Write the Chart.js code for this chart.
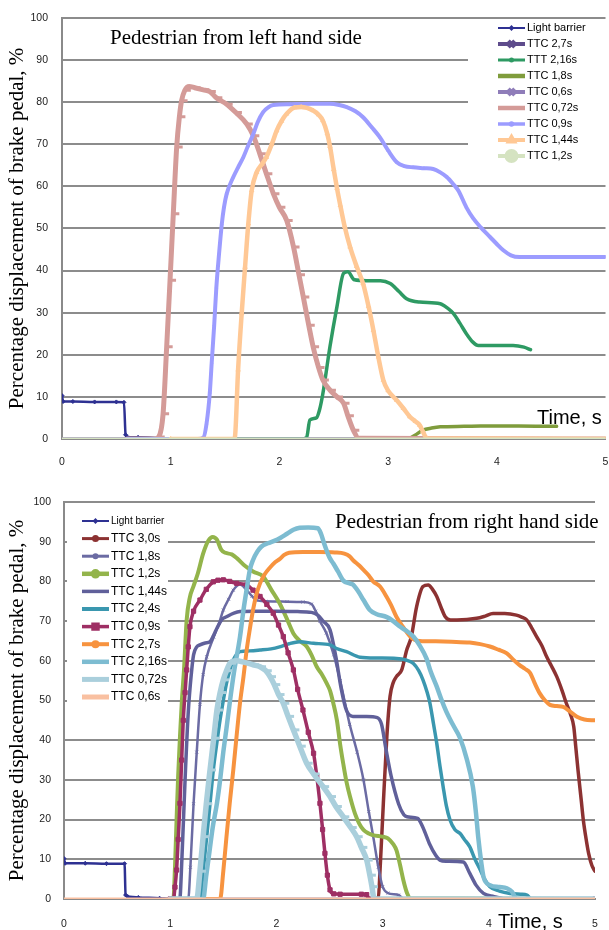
<!DOCTYPE html>
<html><head><meta charset="utf-8">
<script src="https://cdn.jsdelivr.net/npm/chart.js@4.4.1/dist/chart.umd.min.js"></script>
<style>
html,body{margin:0;padding:0;background:#fff;width:609px;height:930px;overflow:hidden}
canvas{position:absolute;left:0}
#c1{top:0}
#c2{top:470px}
</style></head><body>
<canvas id="c1" width="609" height="470"></canvas>
<canvas id="c2" width="609" height="460"></canvas>
<script>
// ---------- axis ticks ----------
const yTickValues = [0,10,20,30,40,50,60,70,80,90,100];
const xTickValues = [0,1,2,3,4,5];

// ---------- TOP PANEL: Pedestrian from left hand side ----------
const leftLabels = ['Light barrier','TTC 2,7s','TTT 2,16s','TTC 1,8s','TTC 0,6s','TTC 0,72s','TTC 0,9s','TTC 1,44s','TTC 1,2s'];
const L_lightBarrier = [[0,10.3],[0.01,8.9],[0.1,8.9],[0.3,8.8],[0.5,8.8],[0.57,8.7],[0.585,1],[0.6,0.5],[0.7,0.4],[0.9,0.2],[1.0,0],[5,0]];
const L_ttc27 = [[0,0],[5,0]];
const L_ttt216 = [[1.5,0],[2.2,0],[2.25,0.3],[2.28,4.5],[2.34,5],[2.37,7],[2.40,10.8],[2.465,21.9],[2.53,31.5],[2.59,39.3],[2.63,39.7],[2.69,37.8],[2.8,37.6],[2.93,37.6],[3.02,36.9],[3.1,35],[3.17,33.3],[3.29,32.5],[3.48,32.1],[3.55,31],[3.60,29.8],[3.66,27.5],[3.72,25],[3.78,23],[3.83,22.2],[4.0,22.2],[4.15,22.2],[4.25,21.8],[4.31,21.2]];
const L_ttc18 = [[3.2,0.2],[3.26,1.1],[3.32,2.1],[3.4,2.6],[3.48,2.9],[3.7,3.0],[3.85,3.1],[4.2,3.1],[4.55,3.0]];
const L_ttc06 = [[0,0],[5,0]];
const L_ttc072 = [[0.6,0],[0.85,0],[0.89,0.5],[0.93,6],[0.963,21.9],[0.994,37.7],[1.024,53.5],[1.055,69.3],[1.08,76.5],[1.10,80.3],[1.13,82.8],[1.17,83.7],[1.22,83.4],[1.30,82.9],[1.36,82.5],[1.42,81],[1.515,79.5],[1.60,77.5],[1.70,74.8],[1.76,72],[1.82,67.7],[1.88,63],[1.945,58.2],[2.0,55],[2.067,51.9],[2.13,45.6],[2.18,39],[2.22,33.7],[2.27,27],[2.31,21.9],[2.36,17],[2.40,14],[2.465,11.6],[2.53,10],[2.59,8.5],[2.63,5.5],[2.68,2.1],[2.73,0.2],[5,0]];
const L_ttc09 = [[0.6,0],[1.25,0],[1.30,0.3],[1.33,3.7],[1.36,11],[1.377,18],[1.40,27],[1.42,36],[1.445,44],[1.47,51],[1.49,55],[1.515,58.2],[1.576,62.2],[1.62,64.5],[1.668,66.9],[1.71,69.5],[1.76,72.4],[1.80,75.2],[1.85,77.6],[1.90,78.8],[1.944,79.3],[2.10,79.5],[2.3,79.6],[2.465,79.6],[2.55,79.3],[2.62,78.8],[2.70,77.8],[2.77,76.4],[2.85,74],[2.925,71.6],[3.0,68.5],[3.08,65.7],[3.15,64.8],[3.23,64.5],[3.33,64.3],[3.415,64.1],[3.48,63.3],[3.54,62.2],[3.60,60.5],[3.646,59],[3.72,55],[3.78,52.5],[3.85,50.3],[3.94,47.9],[4.0,46.3],[4.06,44.8],[4.13,43.6],[4.21,43.2],[4.5,43.2],[5,43.2]];
const L_ttc144 = [[1.0,0],[1.58,0],[1.59,0.3],[1.62,16.4],[1.653,29.8],[1.684,40.8],[1.714,51.1],[1.745,59],[1.79,63.3],[1.84,65.3],[1.88,66.9],[1.93,70],[1.975,73.2],[2.02,75.5],[2.067,77.2],[2.14,78.7],[2.2,78.8],[2.31,78],[2.36,77],[2.40,75.6],[2.44,72.5],[2.465,69.5],[2.50,64],[2.53,59.5],[2.56,55.5],[2.60,50.5],[2.65,45.6],[2.71,41],[2.77,36.9],[2.82,31.5],[2.865,25.8],[2.91,19.5],[2.956,14],[3.0,11.5],[3.08,9.2],[3.14,7.3],[3.20,5.3],[3.25,4.2],[3.29,3.3],[3.32,1.8],[3.355,0.2],[5,0]];
const L_ttc12 = [[0,0],[5,0]];
const leftSeries = [L_lightBarrier,L_ttc27,L_ttt216,L_ttc18,L_ttc06,L_ttc072,L_ttc09,L_ttc144,L_ttc12];

// ---------- BOTTOM PANEL: Pedestrian from right hand side ----------
const rightLabels = ['Light barrier','TTC 3,0s','TTC 1,8s','TTC 1,2s','TTC 1,44s','TTC 2,4s','TTC 0,9s','TTC 2,7s','TTC 2,16s','TTC 0,72s','TTC 0,6s'];
const R_lightBarrier = [[0,10.2],[0.01,9],[0.2,9],[0.4,8.9],[0.57,8.9],[0.58,1],[0.6,0.6],[0.7,0.4],[0.9,0.2],[1.0,0],[5,0]];
const R_ttc30 = [[2.9,0],[2.96,0.3],[2.976,7.3],[3.007,24.1],[3.04,40.9],[3.07,51],[3.10,54.5],[3.13,56],[3.18,57.7],[3.227,62.7],[3.27,66],[3.32,73.6],[3.38,78.7],[3.43,79.1],[3.47,78],[3.51,76.2],[3.55,73.5],[3.59,71.1],[3.64,70.3],[3.70,70.3],[3.886,70.7],[3.96,71.2],[4.04,71.9],[4.15,71.9],[4.26,71.5],[4.31,71],[4.357,70.3],[4.40,68.5],[4.45,66.1],[4.50,63.8],[4.545,61],[4.59,58.7],[4.64,56],[4.69,52.5],[4.73,49.3],[4.77,46.5],[4.80,43.4],[4.82,38],[4.84,32.5],[4.87,25],[4.89,19.9],[4.92,14.5],[4.94,11.5],[4.97,8.5],[5.0,7]];
const R_ttc18 = [[1.0,0],[1.17,0],[1.19,8],[1.22,24],[1.25,37],[1.28,49],[1.31,56.5],[1.344,61],[1.41,66],[1.46,69.5],[1.5,72.8],[1.55,75.5],[1.594,77.8],[1.657,79.2],[1.72,77.8],[1.77,76.3],[1.81,75.3],[1.9,75],[2.1,74.9],[2.25,74.8],[2.33,74.3],[2.37,72.5],[2.41,70],[2.47,67],[2.54,61.5],[2.6,55],[2.69,44],[2.76,37],[2.82,30],[2.87,22],[2.91,16],[2.96,8],[3.0,3.1],[3.05,1.5],[3.15,1],[3.2,0],[5,0]];
const R_ttc12 = [[1.0,0],[1.03,0],[1.045,8],[1.06,19.9],[1.075,31],[1.092,40.9],[1.11,50],[1.13,57.7],[1.155,70.3],[1.185,76],[1.218,78.7],[1.26,82],[1.31,87],[1.36,90.3],[1.40,91.2],[1.44,90.5],[1.48,88],[1.52,87.2],[1.58,86.8],[1.63,85.8],[1.7,84],[1.78,82.5],[1.877,81.2],[1.95,78],[2.03,74.5],[2.1,70.5],[2.16,66.9],[2.22,65],[2.285,63.6],[2.33,61.5],[2.38,58.5],[2.43,56.5],[2.474,54.3],[2.505,52.5],[2.536,49.3],[2.57,45],[2.60,39],[2.63,34],[2.66,29.5],[2.693,25.8],[2.74,21.5],[2.78,19],[2.82,17.4],[2.87,16.5],[2.91,16.1],[3.0,15.7],[3.05,15.3],[3.10,13.8],[3.13,12.3],[3.165,8.5],[3.195,4.8],[3.23,1.5],[3.26,0.2],[5,0]];
const R_ttc144 = [[1.0,0],[1.09,0],[1.11,10],[1.14,30],[1.17,47],[1.20,57],[1.22,61.5],[1.25,63.5],[1.28,64],[1.33,64.5],[1.375,64.8],[1.41,66.5],[1.44,68.2],[1.49,70.5],[1.53,71.1],[1.6,72],[1.657,72.4],[1.8,72.5],[2.0,72.5],[2.2,72.4],[2.33,72.2],[2.39,71.5],[2.44,70],[2.505,67.8],[2.56,61],[2.61,53],[2.66,47.5],[2.72,46],[2.85,46],[2.95,45.7],[2.99,44],[3.03,38],[3.08,31],[3.15,24],[3.2,21.2],[3.23,20.7],[3.33,20.3],[3.38,18],[3.44,14],[3.50,11],[3.54,9.8],[3.6,9.5],[3.76,9.3],[3.82,6.5],[3.88,3.5],[3.95,1.4],[4.05,0.6],[4.1,0.3],[4.15,0],[5,0]];
const R_ttc24 = [[1.0,0],[1.28,0],[1.31,7],[1.344,15.7],[1.375,24],[1.406,32.5],[1.44,39.5],[1.469,45],[1.5,50],[1.53,54.3],[1.56,57.5],[1.594,60.2],[1.657,62.3],[1.75,62.5],[1.846,62.7],[1.95,63],[2.03,63.5],[2.12,64.3],[2.22,64.8],[2.35,64.4],[2.505,64],[2.567,63.1],[2.66,62.3],[2.787,60.9],[2.95,60.7],[3.13,60.6],[3.22,60.2],[3.29,59.3],[3.34,57.5],[3.38,55.2],[3.42,52],[3.446,49.3],[3.48,44],[3.51,39.2],[3.54,33.5],[3.57,28.3],[3.60,23.5],[3.635,19.9],[3.68,17.5],[3.73,16.5],[3.77,15],[3.82,13.2],[3.87,10],[3.92,7.3],[3.96,5],[4.01,3.1],[4.1,2],[4.2,1.4],[4.3,1.2],[4.36,1],[4.4,0],[5,0]];
const R_ttc09 = [[1.0,0],[1.03,0],[1.045,3],[1.06,7.3],[1.075,15],[1.092,24.1],[1.108,35],[1.123,45],[1.14,52],[1.155,57.7],[1.17,63.5],[1.186,68.6],[1.22,72.5],[1.28,75.3],[1.34,78],[1.406,79.9],[1.45,80.3],[1.5,80.4],[1.56,80],[1.626,79.5],[1.72,79.1],[1.78,77.8],[1.846,76.2],[1.91,74.2],[1.97,72],[2.02,69],[2.065,66.1],[2.11,62],[2.16,57.7],[2.2,52.8],[2.25,47.6],[2.30,42],[2.35,36.7],[2.38,31],[2.41,24.1],[2.435,17.5],[2.457,11.5],[2.48,6],[2.505,2.3],[2.54,1.3],[2.6,1.2],[2.8,1.2],[2.85,1.1],[2.87,0],[5,0]];
const R_ttc27 = [[1.0,0],[1.47,0],[1.50,7],[1.53,15.7],[1.56,24],[1.594,32.5],[1.625,41],[1.657,49.3],[1.69,56],[1.72,62.7],[1.75,68],[1.78,72.8],[1.81,76.5],[1.846,79.5],[1.89,81.8],[1.94,83.5],[1.99,84.9],[2.03,85.6],[2.07,86.6],[2.12,87.2],[2.25,87.4],[2.4,87.4],[2.55,87.3],[2.64,87],[2.69,86.3],[2.72,85.4],[2.78,84],[2.82,82.9],[2.87,81.5],[2.91,80],[2.976,78.7],[3.04,76],[3.08,74],[3.13,71.1],[3.18,69],[3.26,66.1],[3.30,65.3],[3.35,65],[3.5,64.9],[3.65,64.8],[3.82,64.6],[3.92,64.2],[4.01,63.6],[4.09,62.8],[4.17,61.9],[4.23,60.3],[4.29,58.9],[4.34,58],[4.39,56.9],[4.43,54.5],[4.48,51.8],[4.53,50],[4.576,48.9],[4.64,48.6],[4.70,48.4],[4.76,47.3],[4.83,45.9],[4.9,45.2],[5.0,45]];
const R_ttc216 = [[1.0,0],[1.31,0],[1.34,6],[1.37,12],[1.40,18],[1.44,24.1],[1.47,30],[1.50,37],[1.53,43],[1.56,49.3],[1.60,57],[1.657,66],[1.69,72.8],[1.72,78],[1.75,82.9],[1.78,85.4],[1.82,87.5],[1.86,88.8],[1.92,89.6],[1.98,90.2],[2.04,91],[2.1,92],[2.16,93],[2.22,93.5],[2.3,93.6],[2.39,93.4],[2.42,92],[2.45,89.5],[2.5,86],[2.536,84.5],[2.58,82.5],[2.63,80.2],[2.69,79.5],[2.72,79.2],[2.77,77.5],[2.82,75.3],[2.88,72.8],[2.94,71.8],[3.04,71],[3.1,70],[3.17,68.5],[3.227,67.5],[3.29,66.1],[3.35,63.8],[3.415,60.5],[3.45,57.5],[3.51,53.5],[3.55,50.5],[3.6,47.2],[3.66,44],[3.73,40.5],[3.79,35.5],[3.85,28.3],[3.88,21.5],[3.90,15.7],[3.93,9],[3.95,5.6],[4.01,3.5],[4.1,3],[4.17,2.7],[4.22,1.8],[4.26,0],[5,0]];
const R_ttc072 = [[1.0,0],[1.25,0],[1.28,7],[1.31,15.7],[1.34,24],[1.375,32.5],[1.41,40.5],[1.44,47.6],[1.47,52],[1.5,55.2],[1.53,57.5],[1.563,59.4],[1.62,60],[1.7,59.6],[1.78,59],[1.846,58.5],[1.9,57.5],[1.94,56],[1.98,54],[2.02,51.5],[2.065,49.3],[2.11,46],[2.16,42.6],[2.22,38.5],[2.285,34.2],[2.35,31.5],[2.44,28.3],[2.505,25.8],[2.56,23.3],[2.63,20.7],[2.70,18],[2.756,15.7],[2.8,13],[2.85,9.8],[2.88,6],[2.9,3.1],[2.92,0],[5,0]];
const R_ttc06 = [[0,0],[5,0]];
const rightSeries = [R_lightBarrier,R_ttc30,R_ttc18,R_ttc12,R_ttc144,R_ttc24,R_ttc09,R_ttc27,R_ttc216,R_ttc072,R_ttc06];

// ---------- styles (kept apart from data) ----------
const leftStyles = [
  {c:'#2E3192', w:2.5, ps:'rectRot', pr:2, lw:2, lm:'rectRot', lr:1.5},
  {c:'#5E4C8C', w:3, lw:4, lm:'crossRot', lr:4.5},
  {c:'#2E9A63', w:3.5, lw:3, lm:'circle', lr:1},
  {c:'#7F9C3C', w:3.5, lw:4.5},
  {c:'#8F7DB9', w:3, lw:4, lm:'crossRot', lr:4.5},
  {c:'#D49B98', w:5, ps:'dash', pr:6, pbw:3, lw:4.5},
  {c:'#9C9CFF', w:4, ps:'triangle', pr:1.5, lw:3.5, lm:'circle', lr:1},
  {c:'#FFC895', w:4.5, ps:'triangle', pr:2.5, lw:4, lm:'triangle', lr:3},
  {c:'#D5E3C1', w:3, lw:4, lm:'circle', lr:5}
];
const rightStyles = [
  {c:'#2E3192', w:2.5, ps:'rectRot', pr:2, lw:2, lm:'rectRot', lr:1.5},
  {c:'#8C3232', w:3.5, lw:3, lm:'circle', lr:2},
  {c:'#6B6BA3', w:2.5, ps:'crossRot', pr:2, lw:3, lm:'circle', lr:1.5},
  {c:'#93B44B', w:4, lw:4.5, lm:'circle', lr:2.5},
  {c:'#60609A', w:3.5, lw:3.5},
  {c:'#3A97AF', w:3.5, lw:4},
  {c:'#9E2F64', w:3.5, ps:'rect', pr:3, lw:3.5, lm:'rect', lr:3.5},
  {c:'#F7933F', w:4, lw:4, lm:'circle', lr:2},
  {c:'#7DBCD1', w:4.5, lw:4.5},
  {c:'#AACFDC', w:5.5, ps:'dash', pr:6, pbw:3, lw:5},
  {c:'#F9C0A1', w:3, lw:5}
];

function buildDatasets(labels, series, styles) {
  return labels.map((label, i) => {
    const s = styles[i];
    return {
      label, data: series[i],
      borderColor: s.c, backgroundColor: s.c,
      borderWidth: s.w, fill: false,
      cubicInterpolationMode: 'monotone',
      borderJoinStyle: 'round', borderCapStyle: 'round',
      pointStyle: s.ps || 'circle',
      pointRadius: s.ps ? s.pr : 0,
      pointBorderWidth: s.pbw || 1,
      pointBackgroundColor: s.c, pointBorderColor: s.c,
      order: -i
    };
  });
}

const panelDecor = {
  id: 'panelDecor',
  afterDatasetsDraw(chart, args, o) {
    const ctx = chart.ctx;
    ctx.save();
    ctx.fillStyle = '#fff';
    ctx.fillRect(o.box[0], o.box[1], o.box[2], o.box[3]);
    chart.data.datasets.forEach((ds, i) => {
      const s = o.styles[i];
      const y = o.ly0 + i * o.ldy;
      ctx.strokeStyle = s.c; ctx.fillStyle = s.c;
      ctx.lineWidth = s.lw; ctx.lineCap = 'butt';
      ctx.beginPath(); ctx.moveTo(o.lx0, y); ctx.lineTo(o.lx1, y); ctx.stroke();
      if (s.lm) {
        Chart.helpers.drawPoint(ctx, {pointStyle: s.lm, radius: s.lr, borderWidth: s.lm === 'crossRot' ? 2.5 : 1, rotation: 0}, (o.lx0 + o.lx1) / 2, y);
      }
      ctx.fillStyle = '#000';
      ctx.font = (i === 0 ? o.lf0 : o.lf) + 'px "Liberation Sans", Arial, sans-serif';
      ctx.textAlign = 'left'; ctx.textBaseline = 'middle';
      ctx.fillText(ds.label, o.tx, y);
    });
    o.texts.forEach(t => {
      ctx.font = t.font; ctx.fillStyle = '#000';
      ctx.textAlign = 'left'; ctx.textBaseline = 'middle';
      ctx.fillText(t.text, t.x, t.y);
    });
    ctx.restore();
  }
};

function makeChart(canvas, labels, series, styles, geo, decor) {
  return new Chart(canvas, {
    type: 'line',
    data: { datasets: buildDatasets(labels, series, styles) },
    options: {
      responsive: false, animation: false, events: [],
      layout: { autoPadding: false, padding: { top: geo.top, right: geo.right, left: 0, bottom: 0 } },
      plugins: { legend: { display: false }, tooltip: { enabled: false }, title: { display: false }, panelDecor: decor },
      scales: {
        x: {
          type: 'linear', min: 0, max: 5,
          afterFit: s => { s.height = geo.xh; s.paddingLeft = 0; s.paddingRight = 0; },
          afterBuildTicks: s => { s.ticks = xTickValues.map(v => ({ value: v })); },
          grid: { display: false, drawTicks: false },
          border: { display: true, color: '#8A8A8A', width: 2 },
          ticks: { padding: geo.xpad, color: '#222', font: { family: '"Liberation Sans", Arial, sans-serif', size: 10.5 }, maxRotation: 0 }
        },
        y: {
          min: 0, max: 100,
          afterFit: s => { s.width = geo.yw; s.paddingTop = 0; s.paddingBottom = 0; },
          afterBuildTicks: s => { s.ticks = yTickValues.map(v => ({ value: v })); },
          grid: { color: '#8C8C8C', lineWidth: 2, drawTicks: false },
          border: { display: true, color: '#8A8A8A', width: 2 },
          ticks: { padding: geo.ypad, color: '#222', font: { family: '"Liberation Sans", Arial, sans-serif', size: 10.5 } },
          title: { display: true, text: 'Percentage displacement of brake pedal, %', color: '#000',
                   font: { family: '"Liberation Serif", "Times New Roman", serif', size: 21, lineHeight: 1.2 },
                   padding: { top: 5, bottom: 0 } }
        }
      }
    },
    plugins: [panelDecor]
  });
}

makeChart(document.getElementById('c1'), leftLabels, leftSeries, leftStyles,
  { top: 17.8, right: 3.5, xh: 31, yw: 62, xpad: 17, ypad: 14 },
  { styles: leftStyles, box: [468, 20, 141, 163], ly0: 28, ldy: 16, lx0: 498, lx1: 525, tx: 527, lf0: 11, lf: 11,
    texts: [
      { text: 'Pedestrian from left hand side', x: 110, y: 38, font: '21px "Liberation Serif", "Times New Roman", serif' },
      { text: 'Time, s', x: 537, y: 418, font: '20px "Liberation Sans", Arial, sans-serif' }
    ] });

makeChart(document.getElementById('c2'), rightLabels, rightSeries, rightStyles,
  { top: 32, right: 14, xh: 31, yw: 64, xpad: 18.5, ypad: 13 },
  { styles: rightStyles, box: [67, 35, 101, 210], ly0: 51, ldy: 17.6, lx0: 82, lx1: 109, tx: 111, lf0: 10, lf: 12,
    texts: [
      { text: 'Pedestrian from right hand side', x: 335, y: 52, font: '21px "Liberation Serif", "Times New Roman", serif' },
      { text: 'Time, s', x: 498, y: 452, font: '20px "Liberation Sans", Arial, sans-serif' }
    ] });
</script>
</body></html>
